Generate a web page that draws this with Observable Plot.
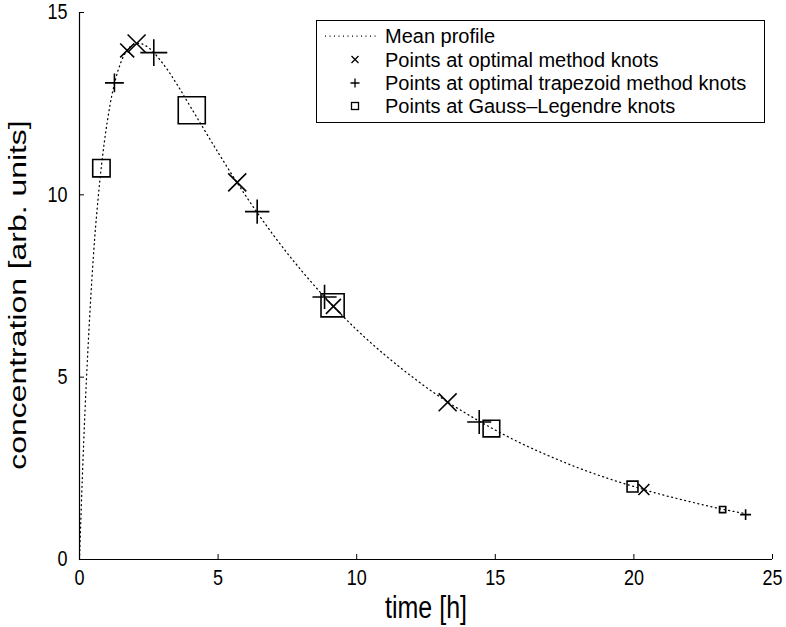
<!DOCTYPE html>
<html><head><meta charset="utf-8">
<script src="https://cdn.jsdelivr.net/npm/d3@7"></script>
<script src="https://cdn.jsdelivr.net/npm/@observablehq/plot@0.6"></script>
<style>
body{margin:0;background:#fff;}
#wrap{position:relative;width:786px;height:627px;font-family:"Liberation Sans",Arial,sans-serif;}
#legend{position:absolute;left:316px;top:20px;width:449px;height:103px;border:1px solid #000;background:#fff;box-sizing:border-box;}
#legend svg{position:absolute;left:-1px;top:-1px;overflow:visible;}
</style></head><body><div id="wrap"><div id="legend"></div></div>
<script>
// Mean concentration profile
const profileTime = [0, 0.1, 0.2, 0.3, 0.4, 0.5, 0.6, 0.8, 1.0, 1.2, 1.4, 1.6, 1.8, 2.0, 2.2, 2.5, 3.0, 3.5, 4, 5, 6, 7, 8, 9, 10, 11, 12, 13, 14, 15, 16, 17, 18, 19, 20, 21, 22, 23, 24];
const profileConc = [0, 2.2, 4.1, 5.7, 7.1, 8.3, 9.3, 10.85, 12.0, 12.85, 13.43, 13.82, 14.04, 14.14, 14.15, 14.03, 13.61, 13.05, 12.42, 11.16, 9.97, 8.89, 7.93, 7.07, 6.30, 5.62, 5.01, 4.46, 3.98, 3.55, 3.16, 2.82, 2.51, 2.24, 2.00, 1.78, 1.59, 1.41, 1.26];
// Points at optimal method knots
const optimalTime = [1.72, 2.06, 5.69, 9.16, 13.28, 20.36];
const optimalConc = [13.96, 14.15, 10.34, 6.94, 4.31, 1.92];
const optimalWeight = [1.38, 2.26, 3.10, 3.20, 7.40, 6.20];
// Points at optimal trapezoid method knots
const trapTime = [1.26, 2.68, 6.41, 8.84, 14.42, 24.03];
const trapConc = [13.07, 13.90, 9.54, 7.20, 3.77, 1.23];
const trapWeight = [1.34, 2.58, 3.08, 4.00, 7.60, 4.80];
// Points at Gauss-Legendre knots
const glTime = [0.79, 4.05, 9.13, 14.86, 19.95, 23.20];
const glConc = [10.73, 12.32, 6.97, 3.59, 2.00, 1.37];
const glWeight = [2.056, 4.330, 5.614, 5.614, 4.330, 2.056];

const xTicks = [0, 5, 10, 15, 20, 25];
const yTicks = [0, 5, 10, 15];
const xLabel = "time [h]";
const yLabel = "concentration [arb. units]";
const legendLabels = ["Mean profile", "Points at optimal method knots", "Points at optimal trapezoid method knots", "Points at Gauss\u2013Legendre knots"];

const profile = profileTime.map((t, i) => ({t, c: profileConc[i]}));
const mk = (T, C, W) => T.map((t, i) => ({t, c: C[i], s: W[i] * C[i]}));
const optimal = mk(optimalTime, optimalConc, optimalWeight);
const trap = mk(trapTime, trapConc, trapWeight);
const gl = mk(glTime, glConc, glWeight);

const sym = (f) => ({draw(ctx, size) { f(ctx, Math.sqrt(size / Math.PI)); }});
const squareSym = sym((c, u) => { const h = 1.85 * u; c.rect(-h, -h, 2 * h, 2 * h); });
const plusSym = sym((c, u) => { const h = 2.25 * u; c.moveTo(-h, 0); c.lineTo(h, 0); c.moveTo(0, -h); c.lineTo(0, h); });
const timesSym = sym((c, u) => { const h = 1.59 * u; c.moveTo(-h, -h); c.lineTo(h, h); c.moveTo(-h, h); c.lineTo(h, -h); });

const font = "Liberation Sans, Arial, sans-serif";
const chart = Plot.plot({
  width: 786, height: 627,
  marginLeft: 79, marginRight: 14, marginTop: 12, marginBottom: 68,
  style: {fontFamily: font, background: "#fff", color: "#000"},
  x: {domain: [0, 25]},
  y: {domain: [0, 15]},
  r: {type: "sqrt", domain: [0, 1], range: [0, 1]},
  marks: [
    Plot.ruleX([0], {stroke: "#000", strokeWidth: 1.2}),
    Plot.ruleY([0], {stroke: "#000", strokeWidth: 1.2}),
    Plot.axisX(xTicks, {tickSize: -5, tickPadding: 15, fontSize: 18, label: null, stroke: "#000", fill: "#000"}),
    Plot.axisY(yTicks, {tickSize: -5, tickPadding: 17, fontSize: 18, label: null, stroke: "#000", fill: "#000"}),
    Plot.text([xLabel], {frameAnchor: "bottom", dy: 48, lineAnchor: "middle", textAnchor: "middle", fontSize: 25, fill: "#000", className: "xlab"}),
    Plot.text([yLabel], {frameAnchor: "left", dx: -61, dy: 9, rotate: -90, lineAnchor: "middle", textAnchor: "middle", fontSize: 24, fill: "#000", className: "ylab"}),
    Plot.line(profile, {x: "t", y: "c", stroke: "#000", strokeWidth: 1.25, strokeDasharray: "1,3.5", curve: "catmull-rom"}),
    Plot.dot(gl, {x: "t", y: "c", r: "s", symbol: squareSym, fill: "none", stroke: "#000", strokeWidth: 1.6}),
    Plot.dot(trap, {x: "t", y: "c", r: "s", symbol: plusSym, fill: "none", stroke: "#000", strokeWidth: 1.6}),
    Plot.dot(optimal, {x: "t", y: "c", r: "s", symbol: timesSym, fill: "none", stroke: "#000", strokeWidth: 1.6})
  ]
});
const wrap = document.getElementById("wrap");
wrap.insertBefore(chart, wrap.firstChild);

// Stretch text vertically (the reference glyphs are tall and narrow)
function stretch(sel, k) {
  d3.select(chart).selectAll(sel).each(function() {
    const el = d3.select(this);
    let tr = el.attr("transform");
    if (!tr) {
      const x = +el.attr("x") || 0, y = +el.attr("y") || 0;
      el.attr("x", null).attr("y", null);
      tr = `translate(${x},${y})`;
    }
    const s = ` scale(1,${k}) `;
    tr = tr.includes("rotate") ? tr.replace("rotate", s + "rotate") : tr + s;
    el.attr("transform", tr);
  });
}
stretch('g[aria-label="x-axis tick label"] text', 1.2);
stretch('g[aria-label="y-axis tick label"] text', 1.2);
stretch('g.xlab text', 1.25);
stretch('g.ylab text', 1.33);

// Legend
const lg = d3.select("#legend").append("svg").attr("width", 449).attr("height", 103);
const rowsY = [16, 39.5, 63, 86];
const symX = 39, textX = 69;
lg.append("line").attr("x1", 9).attr("x2", 61).attr("y1", rowsY[0]).attr("y2", rowsY[0])
  .attr("stroke", "#000").attr("stroke-width", 1.25).attr("stroke-dasharray", "1,3.5");
lg.append("path").attr("d", `M${symX-3.5},${rowsY[1]-3.5}L${symX+3.5},${rowsY[1]+3.5}M${symX-3.5},${rowsY[1]+3.5}L${symX+3.5},${rowsY[1]-3.5}`).attr("stroke", "#000").attr("stroke-width", 1.3);
lg.append("path").attr("d", `M${symX-4.5},${rowsY[2]}L${symX+4.5},${rowsY[2]}M${symX},${rowsY[2]-4.5}L${symX},${rowsY[2]+4.5}`).attr("stroke", "#000").attr("stroke-width", 1.3);
lg.append("rect").attr("x", symX - 3.5).attr("y", rowsY[3] - 3.5).attr("width", 7).attr("height", 7).attr("fill", "none").attr("stroke", "#000").attr("stroke-width", 1.3);
lg.selectAll("text.l").data(legendLabels).join("text").attr("class", "l")
  .attr("x", textX).attr("y", (d, i) => rowsY[i]).attr("dy", "0.35em")
  .attr("font-size", 20).attr("font-family", font).attr("fill", "#000").text(d => d);
</script></body></html>
